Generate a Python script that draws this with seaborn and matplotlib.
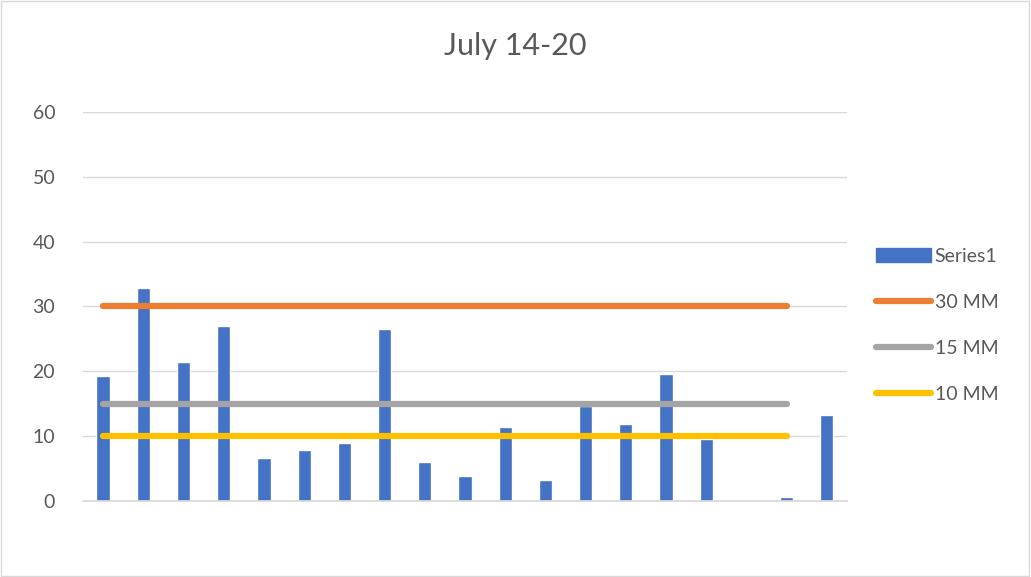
import numpy as np
import pandas as pd
import seaborn as sns
import matplotlib.pyplot as plt
from matplotlib.patches import Patch, Rectangle
from matplotlib.lines import Line2D

# data
days = list(range(1, 20))
series1 = [19.3, 32.9, 21.5, 27.0, 6.6, 7.9, 8.9, 26.6, 6.0, 3.8,
           11.4, 3.2, 14.6, 11.8, 19.6, 9.6, 0.0, 0.6, 13.3]
line_30 = [30] * 18
line_15 = [15] * 18
line_10 = [10] * 18

bar_color = "#4472C4"
colors = {"30 MM": "#ED7D31", "15 MM": "#A5A5A5", "10 MM": "#FFC000"}

sns.set_theme(style="white")
plt.rcParams['font.family'] = ['Lato', 'DejaVu Sans']

fig = plt.figure(figsize=(10.31, 5.77), dpi=100)
ax = fig.add_axes([0.0805, 0.1317, 0.741, 0.6743])

df = pd.DataFrame({"day": days, "value": series1})
sns.barplot(data=df, x="day", y="value", color=bar_color, width=0.33,
            saturation=1, ax=ax, zorder=2)

for name, vals in [("30 MM", line_30), ("15 MM", line_15), ("10 MM", line_10)]:
    ax.plot(np.arange(len(vals)), vals, color=colors[name], lw=4.5,
            solid_capstyle="round", zorder=3)

ax.set_ylim(0, 60)
ax.set_xlim(-0.5, len(days) - 0.5)
ax.set_yticks(range(0, 61, 10))
ax.yaxis.grid(True, color="#D9D9D9", lw=1)
ax.set_axisbelow(True)
ax.set_xticks([])
ax.set_xlabel("")
ax.set_ylabel("")
ax.tick_params(axis="y", labelsize=14, labelcolor="#595959", length=0, pad=20)
for s in ["top", "right", "left"]:
    ax.spines[s].set_visible(False)
ax.spines["bottom"].set_color("#D9D9D9")

fig.text(0.5, 0.92, "July 14-20", ha="center", va="center",
         fontsize=22, color="#595959")

handles = [Patch(color=bar_color, label="Series1")]
for name in ["30 MM", "15 MM", "10 MM"]:
    handles.append(Line2D([0], [0], color=colors[name], lw=4.5,
                          solid_capstyle="round", label=name))
leg = fig.legend(handles=handles, loc="center left",
                 bbox_to_anchor=(0.833, 0.436), frameon=False,
                 fontsize=14, handlelength=2.8, handletextpad=0.2,
                 labelspacing=1.5)
for t in leg.get_texts():
    t.set_color("#595959")

fig.patches.append(Rectangle((0.001, 0.002), 0.997, 0.996, transform=fig.transFigure,
                             fill=False, edgecolor="#D9D9D9", lw=1))

fig.savefig("out.png", dpi=100)
